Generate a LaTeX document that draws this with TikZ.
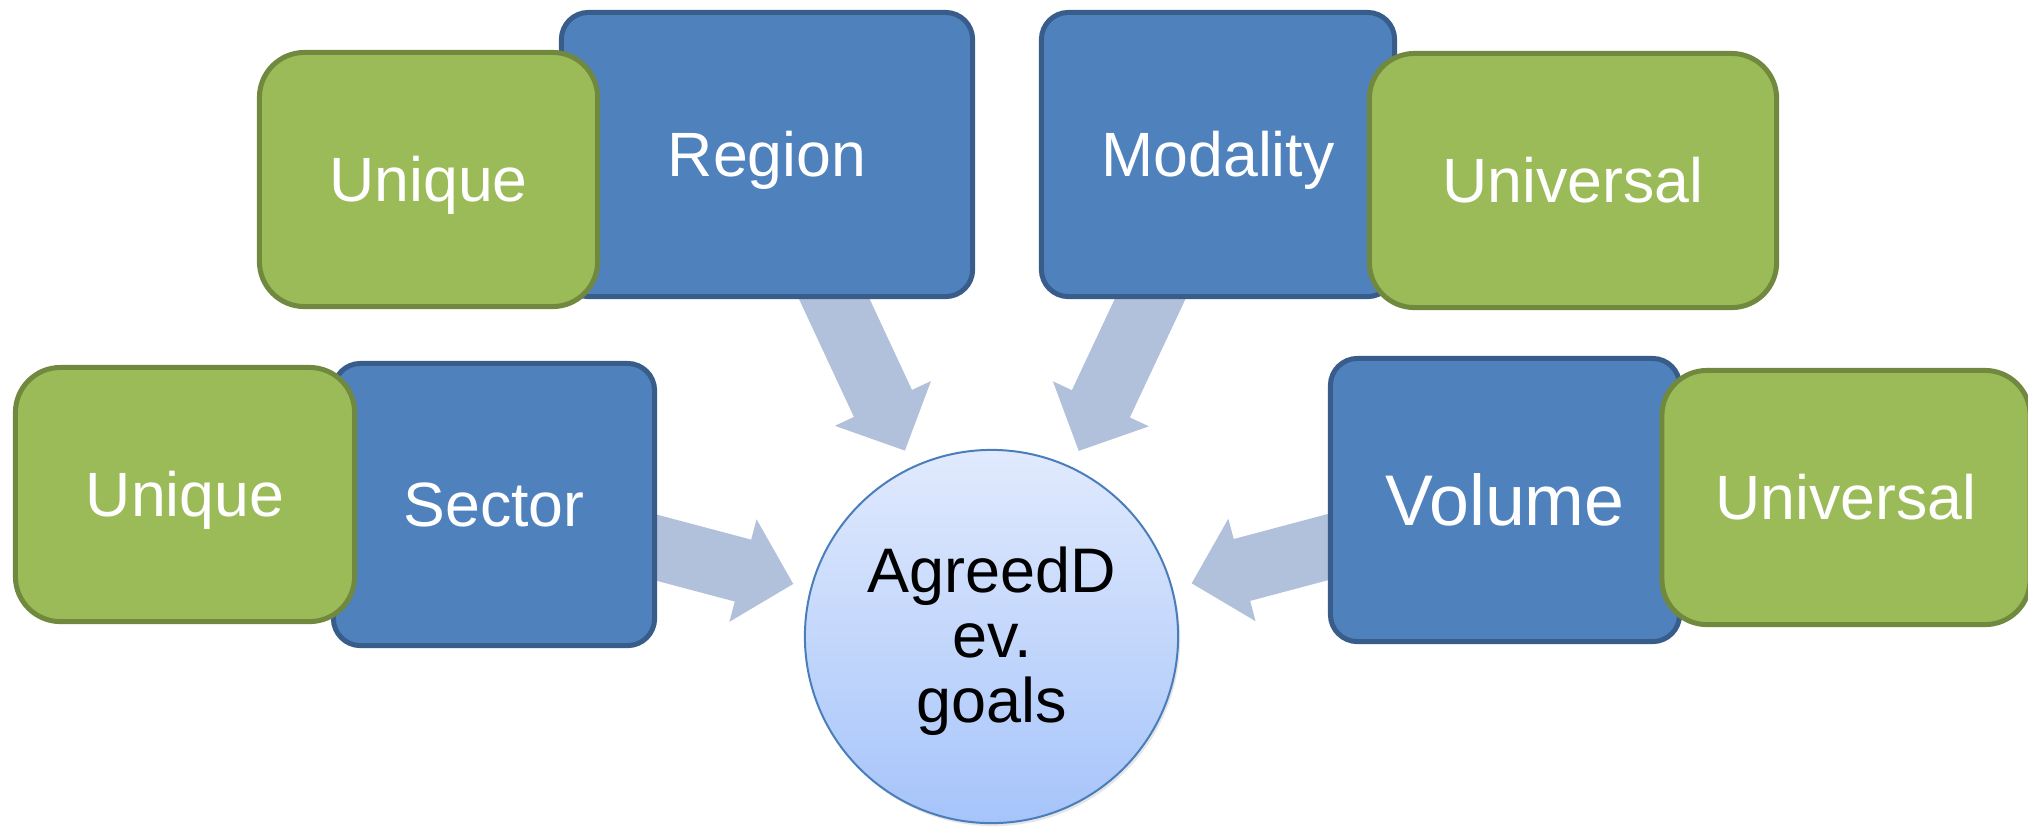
\documentclass[tikz,border=0pt]{standalone}
\usepackage{fontspec}
\setmainfont{Liberation Sans}
\usetikzlibrary{calc,shadows,backgrounds}
\definecolor{bfill}{HTML}{4F81BD}
\definecolor{bline}{HTML}{385D8A}
\definecolor{gfill}{HTML}{9BBB59}
\definecolor{gline}{HTML}{71893F}
\definecolor{afill}{HTML}{B2C1DB}
\definecolor{ctop}{RGB}{225,234,253}
\definecolor{cbot}{RGB}{166,196,250}
\definecolor{cline}{HTML}{4A7EBB}
\tikzset{
  boxbase/.style={line width=0.05cm, inner sep=0pt, text=white,
    font=\fontsize{17.8}{20}\selectfont, text height=12.75pt, text depth=0pt},
  bluebox/.style={boxbase, draw=bline, fill=bfill, rounded corners=0.27cm},
  greenbox/.style={boxbase, draw=gline, fill=gfill, rounded corners=0.45cm},
  bigtext/.style={font=\fontsize{20.4}{22}\selectfont, text height=14.6pt},
  goalcirc/.style={circle, draw=cline, line width=0.02cm, top color=ctop,
    bottom color=cbot, minimum size=3.73cm, inner sep=0pt,
    drop shadow={shadow xshift=0.02cm, shadow yshift=-0.03cm, opacity=0.2}},
  goaltext/.style={align=center, text=black, inner sep=0pt,
    font=\fontsize{17.9}{18.5}\selectfont},
  arrowfill/.style={fill=afill},
}
\newcommand\blockarrow[2]{%
  \coordinate (#1-hb) at ($(#2)!0.52cm!(#1)$);
  \fill[arrowfill] ($(#1)!0.32cm!-90:(#2)$) -- ($(#1-hb)!0.32cm!90:(#1)$)
    -- ($(#1-hb)!0.53cm!90:(#1)$) -- (#2) -- ($(#1-hb)!0.53cm!-90:(#1)$)
    -- ($(#1-hb)!0.32cm!-90:(#1)$) -- ($(#1)!0.32cm!90:(#2)$) -- cycle;
}
\begin{document}
\begin{tikzpicture}[x=0.01cm, y=-0.01cm]
\useasboundingbox (0,0) rectangle (2028,826);
% blue boxes
\node[bluebox, minimum width=4.11cm, minimum height=2.84cm] (region) at (767,154.5) {Region};
\node[bluebox, minimum width=3.53cm, minimum height=2.84cm] (modality) at (1218,154.5) {Modality};
\node[bluebox, minimum width=3.21cm, minimum height=2.82cm] (sector) at (494,504.5) {Sector};
\node[bluebox, bigtext, minimum width=3.49cm, minimum height=2.83cm] (volume) at (1505,500) {Volume};
% green boxes
\node[greenbox, minimum width=3.38cm, minimum height=2.54cm] (unique1) at (428.5,179.5) {Unique};
\node[greenbox, minimum width=4.07cm, minimum height=2.54cm] (universal1) at (1573,180.5) {Universal};
\node[greenbox, minimum width=3.39cm, minimum height=2.54cm] (unique2) at (185,494.5) {Unique};
\node[greenbox, minimum width=3.68cm, minimum height=2.54cm] (universal2) at (1846,497.5) {Universal};
% centre
\node[goalcirc] (goal) at (991.5,636.5) {};
\node[goaltext] (goaltxt) at (992,641) {AgreedD\\ev.\\goals};
% arrow tips
\coordinate (regiontip) at ($(goal)!2.05cm!(region)$);
\coordinate (modalitytip) at ($(goal)!2.05cm!(modality)$);
\coordinate (sectortip) at ($(goal)!2.05cm!(sector)$);
\coordinate (volumetip) at ($(goal)!2.07cm!(volume)$);
\begin{scope}[on background layer]
  \blockarrow{region}{regiontip}
  \blockarrow{modality}{modalitytip}
  \blockarrow{sector}{sectortip}
  \blockarrow{volume}{volumetip}
\end{scope}
\end{tikzpicture}
\end{document}
